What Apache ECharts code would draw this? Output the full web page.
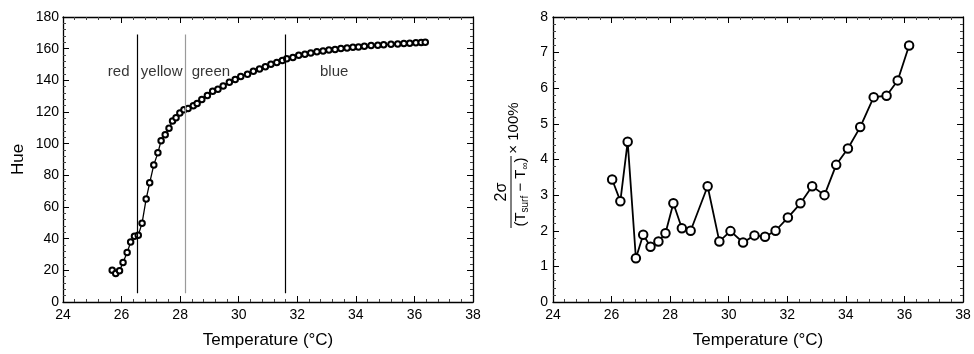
<!DOCTYPE html>
<html>
<head>
<meta charset="utf-8">
<script src="https://cdn.jsdelivr.net/npm/echarts@6/dist/echarts.min.js"></script>
<style>
html,body{margin:0;padding:0;background:#fff;}
#chart{width:974px;height:354px;}
</style>
</head>
<body>
<div id="chart"></div>
<script>
// ---- Data ----
var hueTemp = [25.68,25.80,25.93,26.05,26.19,26.31,26.44,26.57,26.70,26.84,26.96,27.10,27.24,27.35,27.49,27.62,27.74,27.86,27.99,28.13,
  28.27,28.45,28.58,28.74,28.93,29.11,29.29,29.47,29.68,29.88,30.07,30.30,30.50,30.71,30.91,31.10,31.30,31.49,31.64,31.85,
  32.05,32.26,32.46,32.67,32.88,33.08,33.29,33.49,33.70,33.90,34.09,34.29,34.52,34.75,34.95,35.20,35.43,35.64,35.84,36.05,36.23,36.37];
var hueValue = [20.1,18.0,19.7,24.9,31.2,37.9,41.6,42.1,49.8,65.1,75.3,86.6,94.2,101.9,105.6,109.7,114.3,116.3,119.3,121.5,
  122.2,123.9,125.4,127.9,130.4,133.1,134.4,136.5,138.8,140.6,142.5,143.8,145.7,147.1,148.6,150.1,151.3,152.6,153.6,154.5,
  155.8,156.4,157.2,158.1,158.5,159.1,159.5,160.1,160.5,160.9,161.1,161.6,162.0,162.2,162.4,162.8,163.0,163.3,163.5,163.7,163.9,164.1];

var errTemp = [26.02,26.30,26.55,26.83,27.08,27.33,27.60,27.84,28.11,28.40,28.70,29.28,29.68,30.06,30.49,30.88,31.24,31.60,
  32.02,32.45,32.85,33.27,33.67,34.07,34.49,34.95,35.39,35.77,36.16];
var errValue = [3.44,2.83,4.50,1.23,1.89,1.55,1.70,1.93,2.77,2.07,2.00,3.25,1.70,1.99,1.67,1.87,1.83,2.00,
  2.37,2.77,3.25,3.00,3.85,4.31,4.91,5.75,5.79,6.22,7.20];

var bandLineTemp = [26.53, 28.18, 31.59];
var bandLineRange = [5.5, 169];
var bandLabels = ['red', 'yellow', 'green', 'blue'];
var bandLabelTemp = [25.90, 27.37, 29.05, 33.26];
var bandLabelHue = 145.6;

var xRange = [24, 38, 2];
var hueRange = [0, 180, 20];
var errRange = [0, 8, 1];

// ---- Chart ----
var FONT = "'Liberation Sans', Arial, Helvetica, sans-serif";
var chart = echarts.init(document.getElementById('chart'), null, {renderer: 'canvas'});

function axis(opts) {
  return {
    min: opts.range[0], max: opts.range[1], interval: opts.range[2],
    type: 'value',
    gridIndex: opts.grid,
    position: opts.position,
    splitLine: {show: false},
    axisLine: {show: true, onZero: false, lineStyle: {color: '#000', width: 1.3}},
    axisTick: {show: true, inside: true, length: 6, lineStyle: {color: '#000', width: 1}},
    minorTick: {show: true, splitNumber: 5, length: 3, lineStyle: {color: '#444', width: 1}},
    axisLabel: {show: !!opts.labels, color: '#000', fontSize: 14, fontFamily: FONT, margin: opts.margin || 5,
      showMinLabel: true, showMaxLabel: true},
    name: opts.name || '',
    nameLocation: 'middle',
    nameGap: opts.nameGap || 0,
    nameRotate: opts.nameRotate,
    nameTextStyle: {color: '#000', fontSize: 17, fontFamily: FONT}
  };
}

var xAxes = [
  axis({range: xRange, grid: 0, position: 'bottom', labels: true, margin: 6, name: 'Temperature (°C)', nameGap: 30}),
  axis({range: xRange, grid: 0, position: 'top'}),
  axis({range: xRange, grid: 1, position: 'bottom', labels: true, margin: 6, name: 'Temperature (°C)', nameGap: 30}),
  axis({range: xRange, grid: 1, position: 'top'})
];
var yAxes = [
  axis({range: hueRange, grid: 0, position: 'left', labels: true, margin: 4, name: 'Hue', nameGap: 36, nameRotate: 90}),
  axis({range: hueRange, grid: 0, position: 'right'}),
  axis({range: errRange, grid: 1, position: 'left', labels: true, margin: 5}),
  axis({range: errRange, grid: 1, position: 'right'})
];

var hueData = hueTemp.map(function (t, i) { return [t, hueValue[i]]; });
var errData = errTemp.map(function (t, i) { return [t, errValue[i]]; });
var labelData = bandLabels.map(function (n, i) { return [bandLabelTemp[i], bandLabelHue, n]; });
var markLines = bandLineTemp.map(function (t, i) {
  return [
    {coord: [t, bandLineRange[0]], lineStyle: {color: i === 1 ? '#9a9a9a' : '#000', width: 1.2, type: 'solid'}},
    {coord: [t, bandLineRange[1]]}
  ];
});

var option = {
  animation: false,
  backgroundColor: '#fff',
  grid: [
    {left: 63, top: 17, width: 410, height: 287},
    {left: 553, top: 17, width: 410, height: 287}
  ],
  xAxis: xAxes,
  yAxis: yAxes,
  series: [
    {
      type: 'line', xAxisIndex: 0, yAxisIndex: 0, data: hueData,
      symbol: 'emptyCircle', symbolSize: 5.5, showAllSymbol: true,
      lineStyle: {color: '#000', width: 1.3},
      itemStyle: {color: '#000', borderColor: '#000', borderWidth: 0.9},
      z: 3,
      markLine: {silent: true, symbol: ['none', 'none'], label: {show: false}, data: markLines}
    },
    {
      type: 'scatter', xAxisIndex: 0, yAxisIndex: 0, data: labelData,
      symbolSize: 1, itemStyle: {color: 'rgba(0,0,0,0)'},
      label: {show: true, position: 'inside', color: '#000', fontSize: 15, fontFamily: FONT,
        formatter: function (p) { return p.value[2]; }}
    },
    {
      type: 'line', xAxisIndex: 2, yAxisIndex: 2, data: errData,
      symbol: 'emptyCircle', symbolSize: 8.5, showAllSymbol: true,
      lineStyle: {color: '#000', width: 1.8},
      itemStyle: {color: '#000', borderColor: '#000', borderWidth: 1.2}
    }
  ],
  graphic: [
    {
      type: 'group', x: 511, y: 192, rotation: Math.PI / 2,
      children: [
        {type: 'line', shape: {x1: -36, y1: 0, x2: 36, y2: 0}, style: {stroke: '#000', lineWidth: 1}},
        {type: 'text', style: {text: '2σ', x: 0, y: -9, align: 'center', verticalAlign: 'middle',
          fontSize: 16, fontFamily: FONT, fill: '#000'}},
        {type: 'text', style: {
          text: '{a|(T}{s|surf}{a| − T}{s|∞}{a|)}', x: 0, y: 10, align: 'center', verticalAlign: 'middle',
          fontSize: 15, fontFamily: FONT, fill: '#000',
          rich: {
            a: {fontSize: 15, fontFamily: FONT, fill: '#000', color: '#000', lineHeight: 18},
            s: {fontSize: 10, fontFamily: FONT, fill: '#000', color: '#000', lineHeight: 10, verticalAlign: 'bottom'}
          }}},
        {type: 'text', style: {text: '× 100%', x: 64, y: 3, align: 'center', verticalAlign: 'middle',
          fontSize: 15, fontFamily: FONT, fill: '#000'}}
      ]
    }
  ]
};
chart.setOption(option);
</script>
</body>
</html>
